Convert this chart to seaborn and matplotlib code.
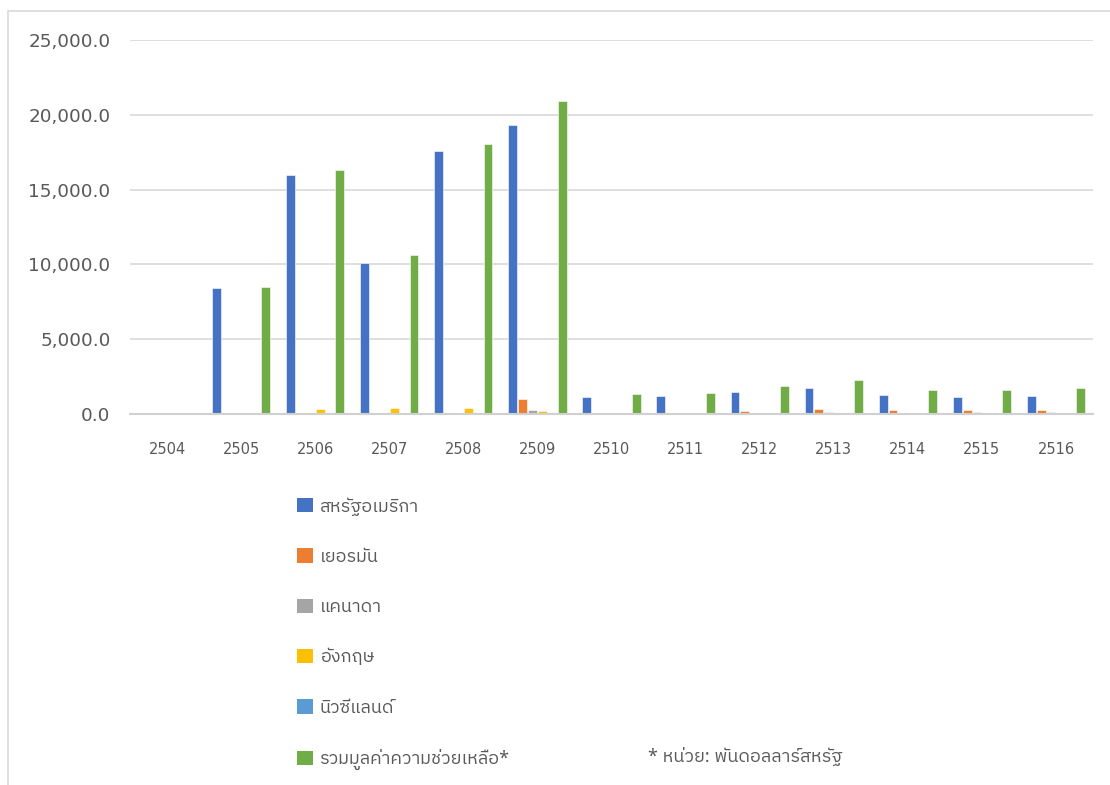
import matplotlib
matplotlib.use("Agg")
import matplotlib.pyplot as plt
from matplotlib import font_manager
from matplotlib.patches import Rectangle, Patch
import seaborn as sns
import pandas as pd

# ---------------- data ----------------
years = ["2504", "2505", "2506", "2507", "2508", "2509", "2510",
         "2511", "2512", "2513", "2514", "2515", "2516"]
series_names = ["สหรัฐอเมริกา", "เยอรมัน", "แคนาดา", "อังกฤษ", "นิวซีแลนด์",
                "รวมมูลค่าความช่วยเหลือ*"]
usa = [0, 8450, 16000, 10100, 17600, 19300, 1110, 1220, 1490, 1710, 1240, 1150, 1220]
germany = [0, 0, 0, 0, 0, 1000, 80, 80, 230, 330, 240, 240, 270]
canada = [0, 0, 0, 0, 0, 290, 0, 0, 40, 150, 50, 150, 150]
england = [0, 30, 310, 400, 420, 180, 0, 0, 0, 0, 0, 0, 0]
newzealand = [0, 0, 0, 100, 0, 100, 0, 0, 0, 0, 0, 0, 0]
total = [0, 8510, 16340, 10630, 18030, 20950, 1310, 1420, 1840, 2270, 1620, 1600, 1730]
colors = ["#4472C4", "#ED7D31", "#A5A5A5", "#FFC000", "#5B9BD5", "#70AD47"]
y_ticks = [0, 5000, 10000, 15000, 20000, 25000]
footnote = "* หน่วย: พันดอลลาร์สหรัฐ"

# ---------------- font with Thai glyphs ----------------
def find_thai_family():
    try:
        from fontTools.ttLib import TTFont
    except Exception:
        return None
    preferred = []
    others = []
    for f in font_manager.fontManager.ttflist:
        try:
            tt = TTFont(f.fname, fontNumber=0, lazy=True)
            cmap = tt.getBestCmap()
            if cmap and 0x0E2A in cmap and 0x0E23 in cmap:
                if "Thai" in f.name and "Looped" not in f.name:
                    preferred.append(f.name)
                else:
                    others.append(f.name)
        except Exception:
            continue
    if preferred:
        return preferred[0]
    if others:
        return others[0]
    return None

sns.set_theme(style="white")
thai = find_thai_family()
fam = ["Noto Sans", "DejaVu Sans"]
if thai:
    fam = ["Noto Sans", thai, "DejaVu Sans"]
plt.rcParams["font.family"] = fam
text_color = "#595959"

# ---------------- dataframe ----------------
values = [usa, germany, canada, england, newzealand, total]
rows = []
for name, vals in zip(series_names, values):
    for y, v in zip(years, vals):
        rows.append({"year": y, "series": name, "value": v})
df = pd.DataFrame(rows)

# ---------------- figure ----------------
fig = plt.figure(figsize=(11.1, 7.85), dpi=100)
fig.patch.set_facecolor("white")
fig.patches.append(Rectangle((8 / 1110, -0.01), 1.1, 1 - 11 / 785 + 0.01,
                             transform=fig.transFigure, fill=False,
                             edgecolor="#d9d9d9", linewidth=1.2))

ax = fig.add_axes([130 / 1110, 1 - 414 / 785, (1093 - 130) / 1110, (414 - 40) / 785])
sns.barplot(data=df, x="year", y="value", hue="series", order=years,
            hue_order=series_names, palette=colors, saturation=1,
            width=0.8, gap=0.1,
            edgecolor="white", linewidth=0.4, legend=False, ax=ax)

ax.set_ylim(0, 25000)
ax.set_yticks(y_ticks)
ax.set_yticklabels([f"{t:,.1f}" for t in y_ticks], fontsize=13.2, color=text_color,
                   family=["DejaVu Sans"])
ax.tick_params(axis="y", length=0, pad=14)
ax.tick_params(axis="x", length=0, pad=20, labelsize=10.5, labelcolor=text_color)
for lab in ax.get_xticklabels():
    lab.set_family(["DejaVu Sans"])
ax.set_xlim(-0.5, len(years) - 0.5)
ax.yaxis.grid(True, color="#d9d9d9", linewidth=1.2)
ax.set_axisbelow(True)
for s in ["top", "right", "left"]:
    ax.spines[s].set_visible(False)
ax.spines["bottom"].set_color("#d0d0d0")
ax.spines["bottom"].set_linewidth(1.5)
ax.set_xlabel("")
ax.set_ylabel("")

# ---------------- legend ----------------
handles = [Patch(facecolor=c, edgecolor="none") for c in colors]
leg = fig.legend(handles, series_names, loc="upper left",
                 bbox_to_anchor=(290 / 1110, 1 - 490 / 785),
                 frameon=False, fontsize=13, labelcolor=text_color,
                 handlelength=0.85, handleheight=0.85, handletextpad=0.4,
                 labelspacing=1.79, borderaxespad=0)

fig.text(648 / 1110, 1 - 756 / 785, footnote, fontsize=13, color=text_color,
         va="center", ha="left")

fig.savefig("out.png", dpi=100, facecolor="white")
